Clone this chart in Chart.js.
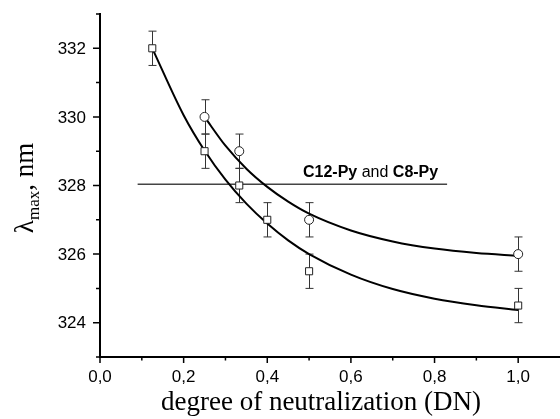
<!DOCTYPE html>
<html>
<head>
<meta charset="utf-8">
<script src="https://cdn.jsdelivr.net/npm/chart.js@4.4.0/dist/chart.umd.min.js"></script>
<style>
  html, body { margin: 0; padding: 0; background: #fff; }
</style>
</head>
<body>
<canvas id="chart" width="560" height="419"></canvas>
<script>
//-----------------------------------------
// DATA
//-----------------------------------------
// C12-Py (squares)
const sqX   = [0.125, 0.25, 0.333, 0.4, 0.5, 1.0];
const sqY   = [332, 329, 328, 327, 325.5, 324.5];
const sqErr = [0.5, 0.5, 0.5, 0.5, 0.5, 0.5];

// C8-Py (circles)
const ciX   = [0.25, 0.333, 0.5, 1.0];
const ciY   = [330, 329, 327, 326];
const ciErr = [0.5, 0.5, 0.5, 0.5];

// fitted curves
const sqFitX = [0.125, 0.2, 0.25, 0.3, 0.35, 0.4, 0.45, 0.5, 0.6, 0.7, 0.8, 0.9, 1.0];
const sqFitY = [332, 330.05, 329.02, 328.17, 327.47, 326.89, 326.4, 326.0, 325.4, 324.98, 324.7, 324.51, 324.37];
const ciFitX = [0.25, 0.3, 0.35, 0.4, 0.45, 0.5, 0.6, 0.7, 0.8, 0.9, 1.0];
const ciFitY = [330, 329.16, 328.49, 327.96, 327.53, 327.18, 326.69, 326.37, 326.16, 326.03, 325.95];

// horizontal reference line
const refX = [0.09, 0.83];
const refY = [328.04, 328.04];

// axis ticks
const xMajor = [0, 0.2, 0.4, 0.6, 0.8, 1.0];
const xLabels = ["0,0", "0,2", "0,4", "0,6", "0,8", "1,0"];
const xMinor = [0.1, 0.3, 0.5, 0.7, 0.9];
const yMajor = [324, 326, 328, 330, 332];
const yLabels = ["324", "326", "328", "330", "332"];
const yMinor = [323, 325, 327, 329, 331, 333];

const toPts = (xs, ys) => xs.map((x, i) => ({ x: x, y: ys[i] }));

//-----------------------------------------
// PLUGIN: error bars, ticks, text
//-----------------------------------------
const decor = {
  id: "decor",
  beforeDatasetsDraw(chart) {
    const ctx = chart.ctx;
    const xs = chart.scales.x, ys = chart.scales.y;
    ctx.save();
    ctx.strokeStyle = "#333";
    ctx.lineWidth = 1;
    const bars = (X, Y, E) => {
      X.forEach((xv, i) => {
        const px = Math.round(xs.getPixelForValue(xv)) + 0.5;
        const top = ys.getPixelForValue(Y[i] + E[i]);
        const bot = ys.getPixelForValue(Y[i] - E[i]);
        ctx.beginPath();
        ctx.moveTo(px, top); ctx.lineTo(px, bot);
        ctx.moveTo(px - 4, top); ctx.lineTo(px + 4, top);
        ctx.moveTo(px - 4, bot); ctx.lineTo(px + 4, bot);
        ctx.stroke();
      });
    };
    bars(sqX, sqY, sqErr);
    bars(ciX, ciY, ciErr);
    ctx.restore();
  },
  afterDraw(chart) {
    const ctx = chart.ctx;
    const xs = chart.scales.x, ys = chart.scales.y;
    const area = chart.chartArea;
    ctx.save();
    ctx.strokeStyle = "#000";
    ctx.lineWidth = 1.5;

    // tick marks
    ctx.beginPath();
    xMajor.forEach(v => { const p = xs.getPixelForValue(v); ctx.moveTo(p, area.bottom); ctx.lineTo(p, area.bottom + 6); });
    xMinor.forEach(v => { const p = xs.getPixelForValue(v); ctx.moveTo(p, area.bottom); ctx.lineTo(p, area.bottom + 3.5); });
    yMajor.forEach(v => { const p = ys.getPixelForValue(v); ctx.moveTo(area.left, p); ctx.lineTo(area.left - 7, p); });
    yMinor.forEach(v => { const p = ys.getPixelForValue(v); ctx.moveTo(area.left, p); ctx.lineTo(area.left - 4, p); });
    ctx.stroke();

    // tick labels
    ctx.fillStyle = "#000";
    ctx.font = "17px 'Liberation Sans', Arial, sans-serif";
    ctx.textAlign = "center";
    ctx.textBaseline = "alphabetic";
    xMajor.forEach((v, i) => ctx.fillText(xLabels[i], xs.getPixelForValue(v), area.bottom + 25));
    ctx.textAlign = "right";
    ctx.textBaseline = "middle";
    yMajor.forEach((v, i) => ctx.fillText(yLabels[i], area.left - 14, ys.getPixelForValue(v) + 1));

    // x title
    ctx.font = "27px 'Liberation Serif', 'Times New Roman', serif";
    ctx.textAlign = "center";
    ctx.textBaseline = "alphabetic";
    ctx.fillText("degree of neutralization (DN)", 321, 410);

    // y title: lambda_max, nm
    ctx.translate(28, 188);
    ctx.rotate(-Math.PI / 2);
    const big = "27px 'Liberation Serif', 'Times New Roman', serif";
    const small = "17px 'Liberation Serif', 'Times New Roman', serif";
    ctx.font = big; const w1 = ctx.measureText("\u03bb").width;
    ctx.font = small; const w2 = ctx.measureText("max").width;
    ctx.font = big; const w3 = ctx.measureText(", nm").width;
    let x0 = -(w1 + w2 + w3) / 2;
    ctx.textAlign = "left";
    ctx.font = big; ctx.fillText("\u03bb", x0, 5);
    ctx.font = small; ctx.fillText("max", x0 + w1, 11);
    ctx.font = big; ctx.fillText(", nm", x0 + w1 + w2, 5);
    ctx.restore();

    // annotation
    ctx.save();
    ctx.fillStyle = "#000";
    ctx.textBaseline = "alphabetic";
    const parts = [["C12-Py", true], [" and ", false], ["C8-Py", true]];
    let tx = 303;
    parts.forEach(p => {
      ctx.font = (p[1] ? "bold " : "") + "16px 'Liberation Sans', Arial, sans-serif";
      ctx.fillText(p[0], tx, 177);
      tx += ctx.measureText(p[0]).width;
    });
    ctx.restore();
  }
};

//-----------------------------------------
// CHART
//-----------------------------------------
new Chart(document.getElementById("chart"), {
  type: "line",
  data: {
    datasets: [
      {
        label: "C12-Py",
        data: toPts(sqX, sqY),
        showLine: false,
        pointStyle: "rect",
        pointRadius: 5,
        pointBackgroundColor: "#fff",
        pointBorderColor: "#222",
        pointBorderWidth: 1
      },
      {
        label: "C8-Py",
        data: toPts(ciX, ciY),
        showLine: false,
        pointStyle: "circle",
        pointRadius: 4.5,
        pointBackgroundColor: "#fff",
        pointBorderColor: "#222",
        pointBorderWidth: 1
      },
      {
        label: "fit C12",
        data: toPts(sqFitX, sqFitY),
        borderColor: "#000",
        borderWidth: 2,
        pointRadius: 0,
        cubicInterpolationMode: "monotone"
      },
      {
        label: "fit C8",
        data: toPts(ciFitX, ciFitY),
        borderColor: "#000",
        borderWidth: 2,
        pointRadius: 0,
        cubicInterpolationMode: "monotone"
      },
      {
        label: "ref",
        data: toPts(refX, refY),
        borderColor: "#444",
        borderWidth: 1.5,
        pointRadius: 0
      }
    ]
  },
  options: {
    responsive: false,
    animation: false,
    layout: { autoPadding: false, padding: { top: 14, left: 0, right: 0, bottom: 0 } },
    plugins: { legend: { display: false }, tooltip: { enabled: false } },
    scales: {
      x: {
        type: "linear",
        min: 0,
        max: 1.1,
        grid: { display: false },
        border: { display: true, color: "#000", width: 2 },
        ticks: { display: false },
        afterFit: s => { s.height = 62; }
      },
      y: {
        min: 323,
        max: 333,
        grid: { display: false },
        border: { display: true, color: "#000", width: 2 },
        ticks: { display: false },
        afterFit: s => { s.width = 100; }
      }
    }
  },
  plugins: [decor]
});
</script>
</body>
</html>
